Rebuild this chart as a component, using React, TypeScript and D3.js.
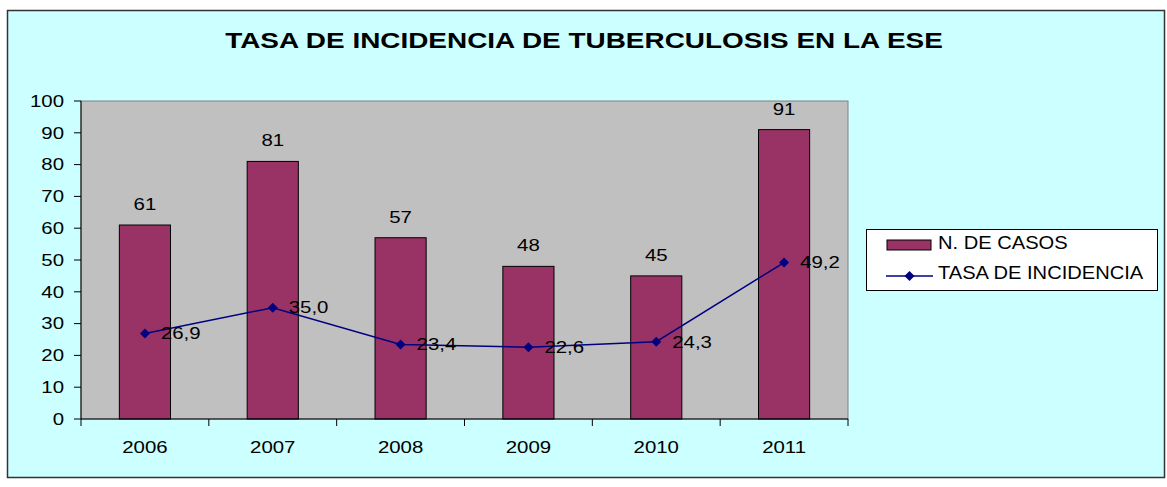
import React from "react";
import * as d3 from "d3";

const years = ["2006", "2007", "2008", "2009", "2010", "2011"];
const casos = [61, 81, 57, 48, 45, 91];
const tasa = [26.9, 35.0, 23.4, 22.6, 24.3, 49.2];
const yTicks = [0, 10, 20, 30, 40, 50, 60, 70, 80, 90, 100];
const title = "TASA DE INCIDENCIA DE TUBERCULOSIS EN LA ESE";
const seriesNames = ["N. DE CASOS", "TASA DE INCIDENCIA"];

const W = 1167;
const H = 487;
const plot = { left: 81, right: 848, top: 101, bottom: 419 };
const FONT = "'Liberation Sans', Arial, sans-serif";
const BAR = "#993366";
const LINE = "#000080";

function T({ x, y, anchor = "start", size = 16.6, sx = 1.23, weight = "normal", baseline = "auto", children }: any) {
  return (
    <text
      transform={`translate(${x},${y}) scale(${sx},1)`}
      textAnchor={anchor}
      fontSize={size}
      fontWeight={weight}
      dominantBaseline={baseline}
      fontFamily={FONT}
      fill="#000"
    >
      {children}
    </text>
  );
}

export default function App() {
  const x = d3
    .scaleBand<string>()
    .domain(years)
    .range([plot.left, plot.right])
    .paddingInner(0.6)
    .paddingOuter(0.3);
  const step = x.step();
  const y = d3.scaleLinear().domain([0, 100]).range([plot.bottom, plot.top]);
  const cx = (d: string) => (x(d) as number) + x.bandwidth() / 2;
  const line = d3
    .line<number>()
    .x((_, i) => cx(years[i]))
    .y((d) => y(d));
  const diamond = d3.symbol(d3.symbolSquare, 50)() as string;
  const fmt = (v: number) => v.toFixed(1).replace(".", ",");
  const boundaries = d3.range(years.length + 1).map((i) => plot.left + i * step);

  return (
    <svg width={W} height={H} style={{ position: "absolute", left: 0, top: 0 }}>
      <rect x={7.5} y={10.5} width={1157} height={467} fill="#CCFFFF" stroke="#333" strokeWidth={1.5} />
      <T x={584} y={48} anchor="middle" size={22} sx={1.27} weight="bold">
        {title}
      </T>
      <rect
        x={plot.left}
        y={plot.top}
        width={plot.right - plot.left}
        height={plot.bottom - plot.top}
        fill="#C0C0C0"
        stroke="#808080"
      />
      {years.map((yr, i) => (
        <rect
          key={yr}
          x={x(yr)}
          y={y(casos[i])}
          width={x.bandwidth()}
          height={y(0) - y(casos[i])}
          fill={BAR}
          stroke="#000"
          strokeWidth={1}
        />
      ))}
      {/* axes */}
      <line x1={plot.left} x2={plot.left} y1={plot.top} y2={plot.bottom} stroke="#000" />
      <line x1={plot.left} x2={plot.right} y1={plot.bottom} y2={plot.bottom} stroke="#000" />
      {yTicks.map((t) => (
        <g key={t}>
          <line x1={plot.left - 7} x2={plot.left} y1={y(t)} y2={y(t)} stroke="#000" />
          <T x={64} y={y(t)} anchor="end" baseline="central">
            {t}
          </T>
        </g>
      ))}
      {boundaries.map((b, i) => (
        <line key={i} x1={b} x2={b} y1={plot.bottom} y2={plot.bottom + 7} stroke="#000" />
      ))}
      {years.map((yr) => (
        <T key={yr} x={cx(yr)} y={453} anchor="middle">
          {yr}
        </T>
      ))}
      {/* bar labels */}
      {years.map((yr, i) => (
        <T key={yr} x={cx(yr)} y={y(casos[i]) - 15} anchor="middle">
          {casos[i]}
        </T>
      ))}
      {/* line */}
      <path d={line(tasa) as string} fill="none" stroke={LINE} strokeWidth={1.5} />
      {tasa.map((v, i) => (
        <path key={i} d={diamond} transform={`translate(${cx(years[i])},${y(v)}) rotate(45)`} fill={LINE} />
      ))}
      {tasa.map((v, i) => (
        <T key={i} x={cx(years[i]) + 16} y={y(v)} baseline="central">
          {fmt(v)}
        </T>
      ))}
      {/* legend */}
      <rect x={866.5} y={229.5} width={291} height={61} fill="#fff" stroke="#000" />
      <rect x={887} y={240} width={44} height={10} fill={BAR} stroke="#000" />
      <T x={938} y={243} size={17.5} sx={1.15} baseline="central">
        {seriesNames[0]}
      </T>
      <line x1={886} x2={933} y1={276} y2={276} stroke={LINE} strokeWidth={1.5} />
      <path d={diamond} transform="translate(909.5,276) rotate(45)" fill={LINE} />
      <T x={938} y={273} size={17.5} sx={1.15} baseline="central">
        {seriesNames[1]}
      </T>
    </svg>
  );
}
